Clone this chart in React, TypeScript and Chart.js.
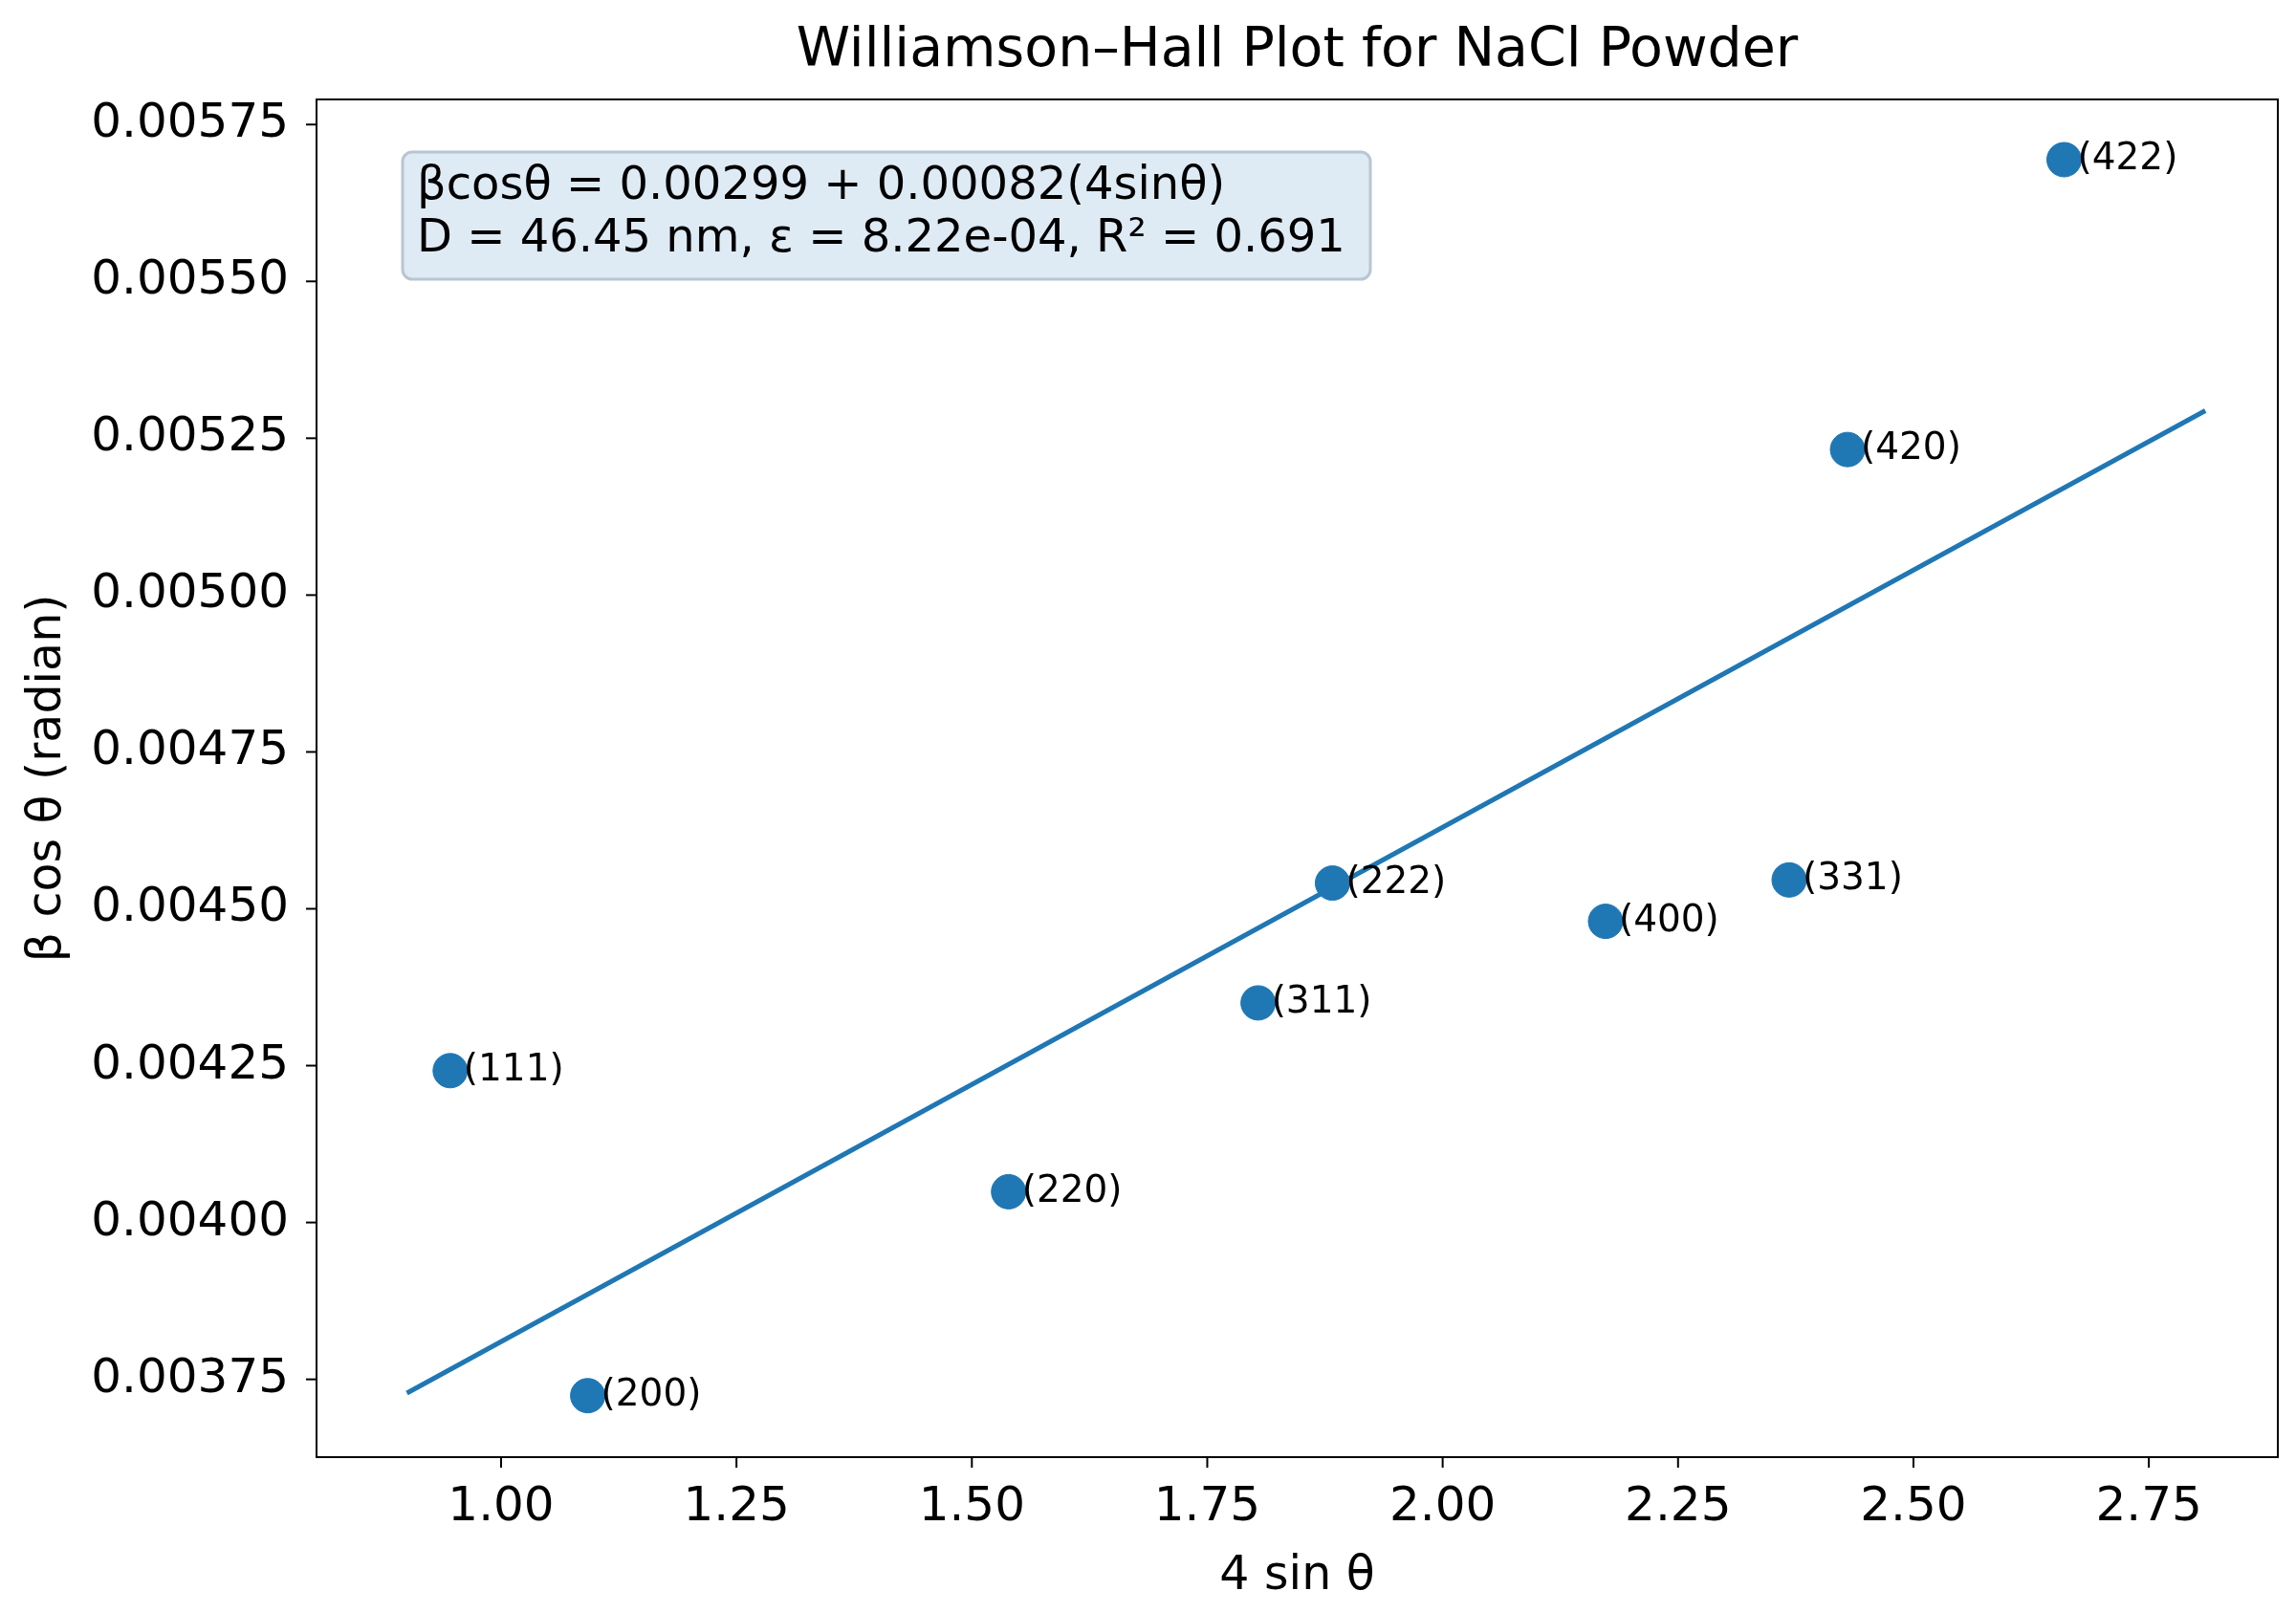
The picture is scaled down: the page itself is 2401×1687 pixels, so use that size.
import React, { useEffect, useRef } from "react";
import { Chart, registerables } from "chart.js";
Chart.register(...registerables);

const labels = ["(111)", "(200)", "(220)", "(311)", "(222)", "(400)", "(331)", "(420)", "(422)"];
const xVals = [0.946, 1.092, 1.539, 1.804, 1.883, 2.173, 2.368, 2.43, 2.66];
const yVals = [0.004242, 0.003724, 0.004049, 0.00435, 0.004541, 0.00448, 0.004546, 0.005232, 0.005694];
const fitX = [0.9, 2.81];
const fitY = [0.003728, 0.005294];
const xTicks = [1.0, 1.25, 1.5, 1.75, 2.0, 2.25, 2.5, 2.75];
const yTicks = [0.00375, 0.004, 0.00425, 0.0045, 0.00475, 0.005, 0.00525, 0.0055, 0.00575];
const boxLines = ["βcosθ = 0.00299 + 0.00082(4sinθ)", "D = 46.45 nm, ε = 8.22e-04, R² = 0.691"];
const title = "Williamson–Hall Plot for NaCl Powder";
const xTitle = "4 sin θ";
const yTitle = "β cos θ (radian)";
const FONT = "'DejaVu Sans', sans-serif";
const BLUE = "#1f77b4";

export default function App() {
  const ref = useRef<HTMLCanvasElement>(null);
  useEffect(() => {
    const extras = {
      id: "extras",
      afterDraw(chart: any) {
        const ctx = chart.ctx;
        const xs = chart.scales.x, ys = chart.scales.y, ca = chart.chartArea;
        ctx.save();
        // frame
        ctx.strokeStyle = "#000";
        ctx.lineWidth = 2;
        ctx.strokeRect(ca.left, ca.top, ca.right - ca.left, ca.bottom - ca.top);
        // ticks
        ctx.fillStyle = "#000";
        ctx.font = `50px ${FONT}`;
        ctx.textAlign = "center";
        ctx.textBaseline = "middle";
        xTicks.forEach((v) => {
          const px = xs.getPixelForValue(v);
          ctx.beginPath(); ctx.moveTo(px, ca.bottom); ctx.lineTo(px, ca.bottom + 11); ctx.stroke();
          ctx.fillText(v.toFixed(2), px, 1577);
        });
        ctx.textAlign = "right";
        yTicks.forEach((v) => {
          const py = ys.getPixelForValue(v);
          ctx.beginPath(); ctx.moveTo(ca.left, py); ctx.lineTo(ca.left - 11, py); ctx.stroke();
          ctx.fillText(v.toFixed(5), 302, py);
        });
        // titles
        ctx.textAlign = "center";
        ctx.font = `49px ${FONT}`;
        ctx.fillText(xTitle, (ca.left + ca.right) / 2, 1649);
        ctx.save();
        ctx.translate(50, (ca.top + ca.bottom) / 2);
        ctx.rotate(-Math.PI / 2);
        ctx.fillText(yTitle, 0, 0);
        ctx.restore();
        ctx.font = `57px ${FONT}`;
        ctx.fillText(title, (ca.left + ca.right) / 2, 54);
        // point labels
        ctx.font = `39px ${FONT}`;
        ctx.textAlign = "left";
        labels.forEach((l, i) => {
          ctx.fillText(l, xs.getPixelForValue(xVals[i]) + 14, ys.getPixelForValue(yVals[i]));
        });
        // box
        const bx = 421, by = 159, bw = 1012, bh = 133, r = 10;
        ctx.beginPath();
        ctx.roundRect(bx, by, bw, bh, r);
        ctx.fillStyle = "rgba(200,220,236,0.6)";
        ctx.fill();
        ctx.strokeStyle = "#b8c6d2";
        ctx.lineWidth = 3;
        ctx.stroke();
        ctx.fillStyle = "#000";
        ctx.font = `48px ${FONT}`;
        ctx.fillText(boxLines[0], 436, 196);
        ctx.fillText(boxLines[1], 436, 251);
        ctx.restore();
      },
    };
    const chart = new Chart(ref.current!, {
      type: "scatter",
      data: {
        datasets: [
          {
            type: "line",
            data: fitX.map((x, i) => ({ x, y: fitY[i] })),
            borderColor: BLUE,
            borderWidth: 5,
            pointRadius: 0,
            fill: false,
          } as any,
          {
            data: xVals.map((x, i) => ({ x, y: yVals[i] })),
            backgroundColor: BLUE,
            borderColor: BLUE,
            pointRadius: 18,
          },
        ],
      },
      plugins: [extras],
      options: {
        animation: false,
        responsive: false,
        devicePixelRatio: 1,
        layout: { padding: { top: 104, right: 18, left: 0, bottom: 0 } },
        plugins: { legend: { display: false }, tooltip: { enabled: false } },
        scales: {
          x: {
            type: "linear",
            min: 0.804,
            max: 2.887,
            afterBuildTicks: (s: any) => { s.ticks = xTicks.map((v) => ({ value: v })); },
            afterFit: (s: any) => { s.height = 163; },
            grid: { display: false },
            border: { display: false },
            ticks: { display: false },
          },
          y: {
            type: "linear",
            min: 0.003626,
            max: 0.00579,
            afterBuildTicks: (s: any) => { s.ticks = yTicks.map((v) => ({ value: v })); },
            afterFit: (s: any) => { s.width = 331; },
            grid: { display: false },
            border: { display: false },
            ticks: { display: false },
          },
        },
      } as any,
    });
    return () => chart.destroy();
  }, []);
  return (
    <div style={{ position: "absolute", left: 0, top: 0, width: 2401, height: 1687, background: "#fff" }}>
      <canvas ref={ref} width={2401} height={1687} />
    </div>
  );
}
